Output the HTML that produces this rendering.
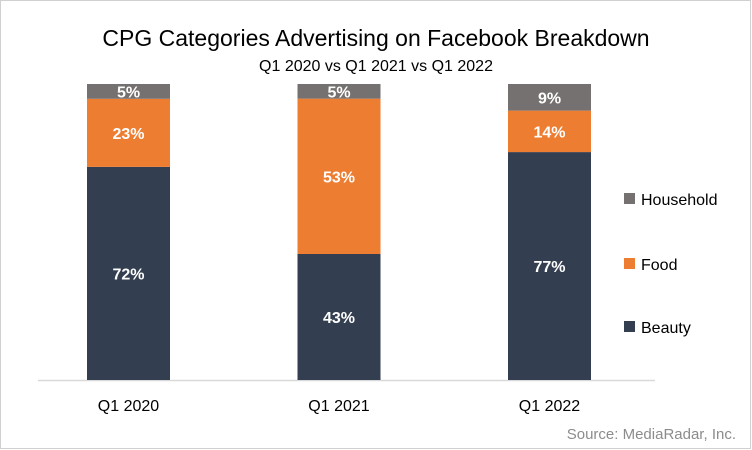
<!DOCTYPE html>
<html><head><meta charset="utf-8"><style>
body{margin:0;background:#fff}
svg{display:block;font-family:"Liberation Sans",Calibri,sans-serif}
</style></head><body>
<svg id="chart" width="752" height="450">
<rect x="0.5" y="0.5" width="750" height="448" fill="#fff" stroke="#d0d0d0"/>
<text x="376" y="46" text-anchor="middle" font-size="23" fill="#000">CPG Categories Advertising on Facebook Breakdown</text>
<text x="376" y="71" text-anchor="middle" font-size="16" fill="#000">Q1 2020 vs Q1 2021 vs Q1 2022</text>
<line x1="38" y1="380.5" x2="655" y2="380.5" stroke="#d9d9d9" stroke-width="1.5"/>
<g id="bars"></g>
<text x="736" y="439" text-anchor="end" font-size="15" fill="#8c8c8c">Source: MediaRadar, Inc.</text>
</svg>
<script>
const categories=["Q1 2020","Q1 2021","Q1 2022"];
const seriesNames=["Beauty","Food","Household"];
const beauty=[72,43,77];
const food=[23,53,14];
const household=[5,5,9];
const colors=["#333f50","#ed7d31","#767171"];
const NS="http://www.w3.org/2000/svg";
const g=document.getElementById("bars");
const baseY=380, fullH=296, barW=83;
const xCenter=i=>128.5+i*210.5;
const series=[beauty,food,household];
categories.forEach((c,i)=>{
  const total=series.reduce((a,s)=>a+s[i],0);
  const pxPer=fullH/total;
  const y=v=>baseY-v*pxPer;
  let cum=0;
  series.forEach((s,k)=>{
    const v=s[i];
    const r=document.createElementNS(NS,"rect");
    r.setAttribute("x",xCenter(i)-barW/2);
    r.setAttribute("y",y(cum+v));
    r.setAttribute("width",barW);
    r.setAttribute("height",v*pxPer);
    r.setAttribute("fill",colors[k]);
    
    
    g.appendChild(r);
    const t=document.createElementNS(NS,"text");
    t.setAttribute("x",xCenter(i));
    t.setAttribute("y",y(cum+v/2)+6);
    t.setAttribute("text-anchor","middle");
    t.setAttribute("font-size","16");
    t.setAttribute("font-weight","bold");
    t.setAttribute("fill","#fff");
    t.textContent=v+"%";
    
    
    g.appendChild(t);
    cum+=v;
  });
  const l=document.createElementNS(NS,"text");
  l.setAttribute("x",xCenter(i));
  l.setAttribute("y",411);
  l.setAttribute("text-anchor","middle");
  l.setAttribute("font-size","16");
  l.setAttribute("fill","#000");
  l.textContent=c;
  
  
  g.appendChild(l);
});
const legendY=[327,264,199];
seriesNames.forEach((n,k)=>{
  const r=document.createElementNS(NS,"rect");
  r.setAttribute("x",624);r.setAttribute("y",legendY[k]-6);
  r.setAttribute("width",11);r.setAttribute("height",11);
  r.setAttribute("fill",colors[k]);
  
  
  g.appendChild(r);
  const t=document.createElementNS(NS,"text");
  t.setAttribute("x",641);t.setAttribute("y",legendY[k]+6);
  t.setAttribute("font-size","16");t.setAttribute("fill","#000");
  t.textContent=n;
  
  
  g.appendChild(t);
});
</script>
</body></html>
